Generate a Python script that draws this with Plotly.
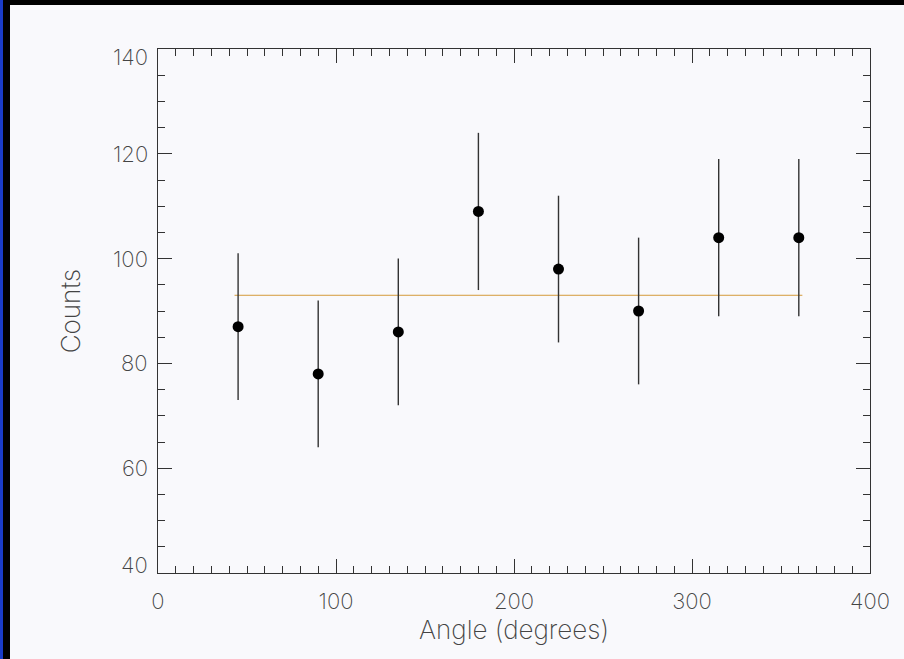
import plotly.graph_objects as go

angles = [45, 90, 135, 180, 225, 270, 315, 360]
counts = [87, 78, 86, 109, 98, 90, 104, 104]
err_plus = [14, 14, 14, 15, 14, 14, 15, 15]
err_minus = [14, 14, 14, 15, 14, 14, 15, 15]
fit_x = [43, 362]
fit_y = [93, 93]
y_tick_vals = [40, 60, 80, 100, 120, 140]
y_tick_text = ["40", "60", "80", "100", "120", "140"]

x_range = [0, 400]
y_range = [40, 140]

W, H = 904, 659
L, R, T, B = 158, 34, 49, 86
pw, ph = W - L - R, H - T - B

fig = go.Figure()
fig.add_trace(go.Scatter(
    x=fit_x, y=fit_y, mode="lines",
    line=dict(color="#d49a3a", width=1), hoverinfo="skip", showlegend=False))
fig.add_trace(go.Scatter(
    x=angles, y=counts, mode="markers",
    marker=dict(color="black", size=11),
    error_y=dict(type="data", array=err_plus, arrayminus=err_minus,
                 color="#333333", thickness=1.4, width=0),
    showlegend=False))

FAM = "Inter, Noto Sans"
tick_font = dict(family=FAM, size=22, color="#444444", weight=200)
title_font = dict(family=FAM, size=26, color="#444444", weight=200)
common = dict(showgrid=False, zeroline=False, showline=True, linecolor="#333333",
              linewidth=1.3, mirror="ticks", ticks="inside", ticklen=14,
              tickwidth=1.2, tickcolor="#333333", tickfont=tick_font)
fig.update_xaxes(range=x_range, dtick=100, tick0=0, ticklabelstandoff=8,
                 minor=dict(dtick=10, ticks="inside", ticklen=7, tickcolor="#333333", tickwidth=1),
                 title=dict(text="Angle (degrees)", font=title_font, standoff=3), **common)
fig.update_yaxes(range=y_range, tickvals=y_tick_vals, showticklabels=False,
                 minor=dict(dtick=5, ticks="inside", ticklen=7, tickcolor="#333333", tickwidth=1),
                 title=dict(text="Counts", font=title_font, standoff=68), **common)

annotations = []
for i, (v, t) in enumerate(zip(y_tick_vals, y_tick_text)):
    ys = 0
    if i == 0:
        ys = 8
    elif i == len(y_tick_vals) - 1:
        ys = -8
    annotations.append(dict(x=0, xref="paper", y=v, yref="y", text=t, showarrow=False,
                            xanchor="right", yanchor="middle", xshift=-8, yshift=ys,
                            font=tick_font))

def px_to_paper_x(px):
    return (px - L) / pw

def px_to_paper_y(py):
    return 1 - (py - T) / ph

shapes = [
    dict(type="rect", xref="paper", yref="paper", x0=px_to_paper_x(0), x1=px_to_paper_x(W),
         y0=px_to_paper_y(5), y1=px_to_paper_y(0), fillcolor="black", line=dict(width=0), layer="above"),
    dict(type="rect", xref="paper", yref="paper", x0=px_to_paper_x(3), x1=px_to_paper_x(10),
         y0=px_to_paper_y(H), y1=px_to_paper_y(0), fillcolor="black", line=dict(width=0), layer="above"),
    dict(type="rect", xref="paper", yref="paper", x0=px_to_paper_x(0), x1=px_to_paper_x(3),
         y0=px_to_paper_y(H), y1=px_to_paper_y(0), fillcolor="#1a3cc8", line=dict(width=0), layer="above"),
]

fig.update_layout(
    width=W, height=H,
    margin=dict(l=L, r=R, t=T, b=B),
    paper_bgcolor="#f9f9fc", plot_bgcolor="#f9f9fc",
    font=tick_font,
    shapes=shapes,
    annotations=annotations,
)

fig.write_html("out.html")
